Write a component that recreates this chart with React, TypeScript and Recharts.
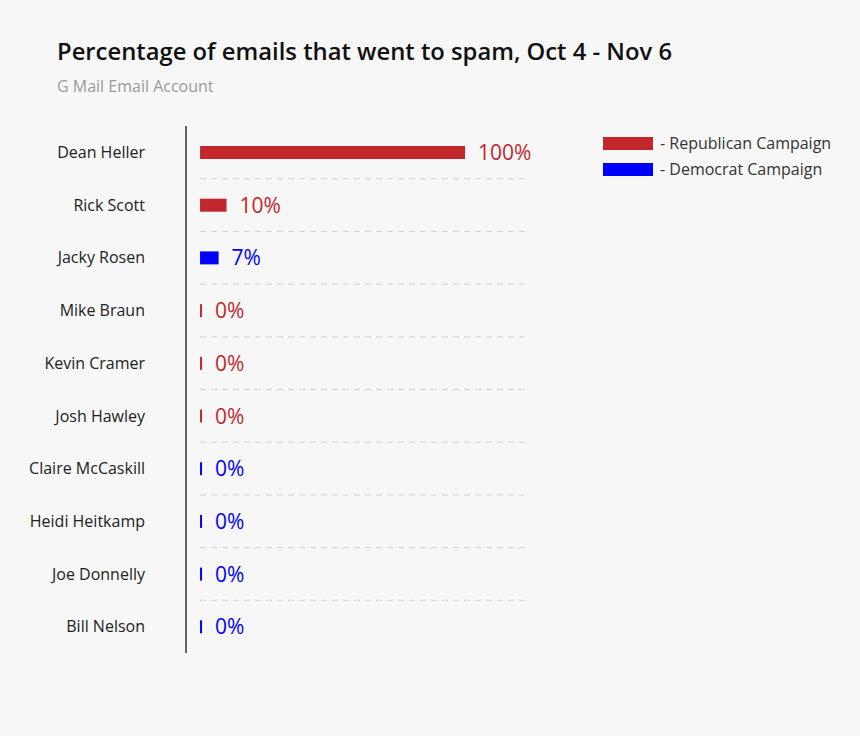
import { Bar, BarChart, CartesianGrid, Cell, LabelList, XAxis, YAxis } from 'recharts'

const candidates = [
  'Dean Heller',
  'Rick Scott',
  'Jacky Rosen',
  'Mike Braun',
  'Kevin Cramer',
  'Josh Hawley',
  'Claire McCaskill',
  'Heidi Heitkamp',
  'Joe Donnelly',
  'Bill Nelson',
]
const spamPercent = [100, 10, 7, 0, 0, 0, 0, 0, 0, 0]
const campaign = ['R', 'R', 'D', 'R', 'R', 'R', 'D', 'D', 'D', 'D']

const legendItems = [
  { key: 'R', label: '- Republican Campaign' },
  { key: 'D', label: '- Democrat Campaign' },
]

const COLORS: Record<string, string> = { R: '#c1272d', D: '#0000ff' }
const FONT = '"Open Sans", sans-serif'
const BAR_GAP = 14

const data = candidates.map((name, i) => ({
  name,
  value: spamPercent[i],
  party: campaign[i],
}))

const GridLine = (props: any) => (
  <line
    key={`grid-${props.y1}`}
    x1={props.x1 + BAR_GAP}
    x2={props.x2}
    y1={props.y1}
    y2={props.y2}
    stroke="#cfcfcf"
    strokeWidth={1}
    strokeDasharray="6 5"
  />
)

const PercentLabel = (props: any) => {
  const { x, y, width, height, value, index } = props
  return (
    <text
      x={x + width + 13}
      y={y + height / 2}
      dy={7.5}
      fill={COLORS[campaign[index]]}
      fontSize={21}
      fontFamily={FONT}
    >
      {value}%
    </text>
  )
}

const LegendBox = () => (
  <div
    style={{
      position: 'absolute',
      left: 603,
      top: 130,
      fontFamily: FONT,
      fontSize: 16,
      color: '#333',
    }}
  >
    {legendItems.map((item) => (
      <div key={item.key} style={{ display: 'flex', alignItems: 'center', height: 26 }}>
        <span
          style={{
            display: 'inline-block',
            width: 50,
            height: 13,
            background: COLORS[item.key],
            marginRight: 7,
          }}
        />
        <span style={{ whiteSpace: 'nowrap' }}>{item.label}</span>
      </div>
    ))}
  </div>
)

export default function App() {
  return (
    <div
      style={{
        position: 'absolute',
        left: 0,
        top: 0,
        width: 860,
        height: 736,
        background: '#f7f7f7',
        fontFamily: FONT,
      }}
    >
      <div
        style={{
          position: 'absolute',
          left: 57,
          top: 40,
          fontSize: 23.8,
          lineHeight: '23px',
          fontWeight: 600,
          color: '#111',
          whiteSpace: 'nowrap',
        }}
      >
        Percentage of emails that went to spam, Oct 4 - Nov 6
      </div>
      <div
        style={{
          position: 'absolute',
          left: 57,
          top: 78,
          fontSize: 16,
          lineHeight: '16px',
          color: '#9a9a9a',
          whiteSpace: 'nowrap',
        }}
      >
        G Mail Email Account
      </div>
      <div style={{ position: 'absolute', left: 0, top: 0 }}>
        <BarChart
          width={860}
          height={736}
          data={data}
          layout="vertical"
          margin={{ top: 126, right: 330, bottom: 83, left: 0 }}
          barSize={13}
        >
          <CartesianGrid
            vertical={false}
            horizontal={GridLine}
            horizontalCoordinatesGenerator={({ offset }: any) =>
              candidates
                .slice(1)
                .map((_, i) => offset.top + ((i + 1) * offset.height) / candidates.length)
            }
          />
          <XAxis type="number" hide domain={[-5.3, 124.5]} />
          <YAxis
            type="category"
            dataKey="name"
            width={186}
            tickLine={false}
            tickSize={0}
            tickMargin={41}
            axisLine={{ stroke: '#333', strokeWidth: 1.5 }}
            tick={{ fontSize: 16, fill: '#222', fontFamily: FONT }}
            interval={0}
          />
          <Bar dataKey="value" minPointSize={2} isAnimationActive={false}>
            {data.map((d) => (
              <Cell key={d.name} fill={COLORS[d.party]} />
            ))}
            <LabelList dataKey="value" content={<PercentLabel />} />
          </Bar>
        </BarChart>
      </div>
      <LegendBox />
    </div>
  )
}
